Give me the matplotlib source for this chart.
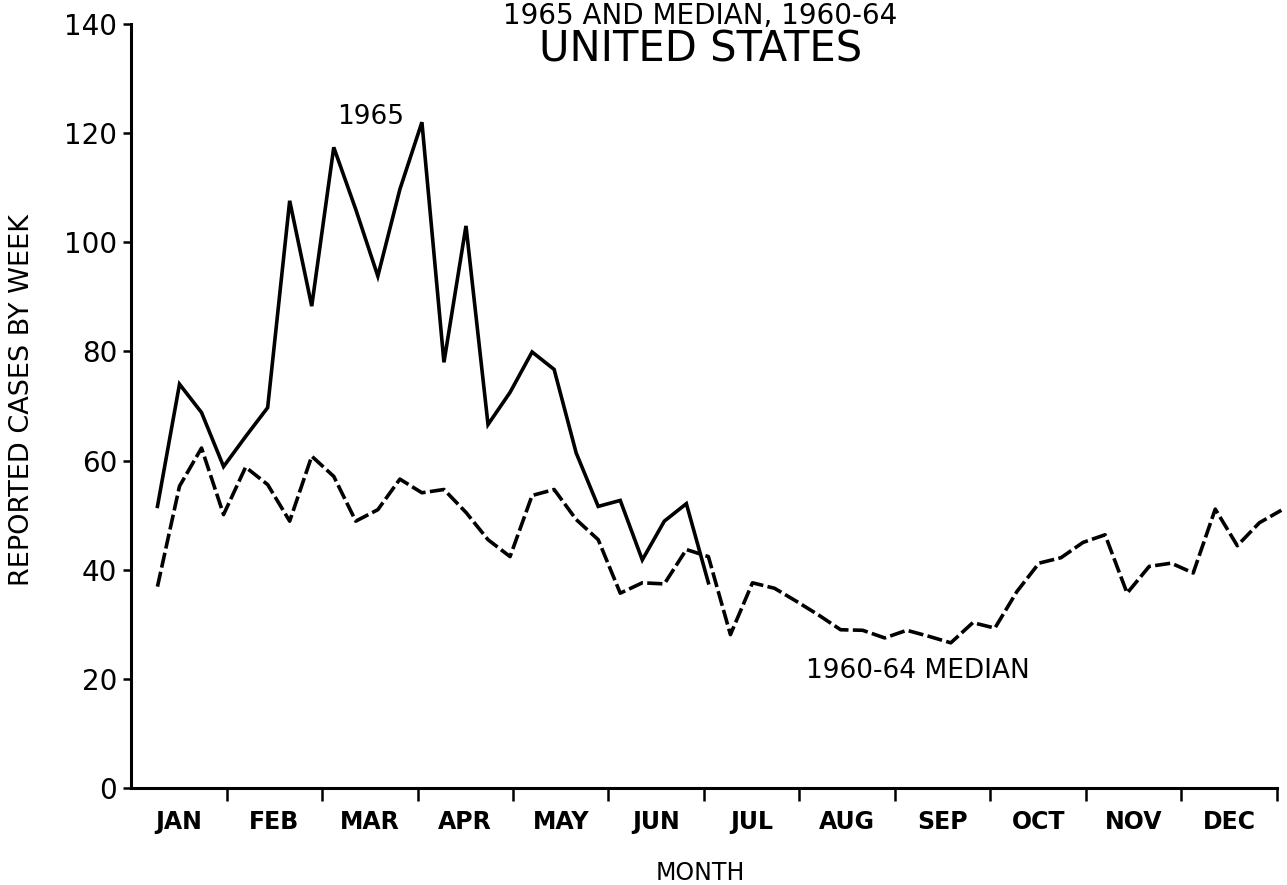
import numpy as np
import matplotlib
matplotlib.use("Agg")
import matplotlib.pyplot as plt

# weekly reported cases
weeks_1965 = list(range(1, 27))
cases_1965 = [51.6, 74.0, 68.8, 58.9, 64.4, 69.7, 107.6, 88.3, 117.4, 106.0,
              93.8, 109.7, 122.0, 78.0, 103.0, 66.6, 72.5, 79.9, 76.7, 61.4,
              51.6, 52.7, 41.8, 48.9, 52.1, 37.6]

weeks_median = list(range(1, 53))
cases_median = [36.9, 55.3, 62.3, 50.1, 58.8, 55.6, 48.9, 60.8, 57.1, 48.9,
                51.0, 56.6, 54.1, 54.7, 50.5, 45.5, 42.4, 53.6, 54.7, 49.2,
                45.5, 35.7, 37.6, 37.4, 43.7, 42.4, 28.1, 37.6, 36.6, 34.2,
                31.7, 29.0, 28.9, 27.5, 28.9, 27.8, 26.6, 30.3, 29.3, 36.0,
                41.2, 42.2, 45.0, 46.4, 35.7, 40.6, 41.2, 39.4, 51.1, 44.4,
                48.6, 50.9]

months = ["JAN", "FEB", "MAR", "APR", "MAY", "JUN",
          "JUL", "AUG", "SEP", "OCT", "NOV", "DEC"]
y_ticks = [0, 20, 40, 60, 80, 100, 120, 140]

fig = plt.figure(figsize=(12.87, 8.85), dpi=100)
ax = fig.add_axes([0.1018, 0.1096, 0.8904, 0.8633])

ax.plot(weeks_1965, cases_1965, color="black", linewidth=2.6,
        solid_joinstyle="miter", clip_on=False)
ax.plot(weeks_median, cases_median, color="black", linewidth=2.6,
        linestyle=(0, (4.2, 1.2)), clip_on=False)

# month boundaries on the week scale
x0 = -0.2
month_len = 52 / 12
bounds = [x0 + k * month_len for k in range(1, 13)]
centers = [x0 + (k + 0.5) * month_len for k in range(12)]

ax.set_xlim(x0, x0 + 52)
ax.set_ylim(0, 140)

ax.set_xticks(bounds)
ax.set_xticklabels([])
ax.set_xticks(centers, minor=True)
ax.set_xticklabels(months, minor=True, fontsize=17, fontweight="bold")
ax.tick_params(axis="x", which="major", direction="out", length=9, width=1.8)
ax.tick_params(axis="x", which="minor", length=0, pad=16)

ax.set_yticks(y_ticks)
ax.set_yticklabels([str(v) for v in y_ticks], fontsize=20)
ax.tick_params(axis="y", direction="out", length=6, width=1.8, pad=4)

for side in ["top", "right"]:
    ax.spines[side].set_visible(False)
for side in ["left", "bottom"]:
    ax.spines[side].set_linewidth(2.2)

ax.text(12.2, 123, "1965", fontsize=19, ha="right", va="center")
ax.text(35.5, 21.5, "1960-64 MEDIAN", fontsize=19, ha="center", va="center")

fig.text(0.544, 1 - 62 / 885, "UNITED STATES", fontsize=30,
         ha="center", va="baseline")
fig.text(0.544, 1 - 24 / 885, "1965 AND MEDIAN, 1960-64", fontsize=20,
         ha="center", va="baseline")
fig.text(0.544, 1 - 873 / 885, "MONTH", fontsize=17, ha="center", va="center")
fig.text(22 / 1287, 1 - 400 / 885, "REPORTED CASES BY WEEK", fontsize=19.5,
         rotation=90, ha="center", va="center")

fig.savefig("out.png", dpi=100, facecolor="white")
